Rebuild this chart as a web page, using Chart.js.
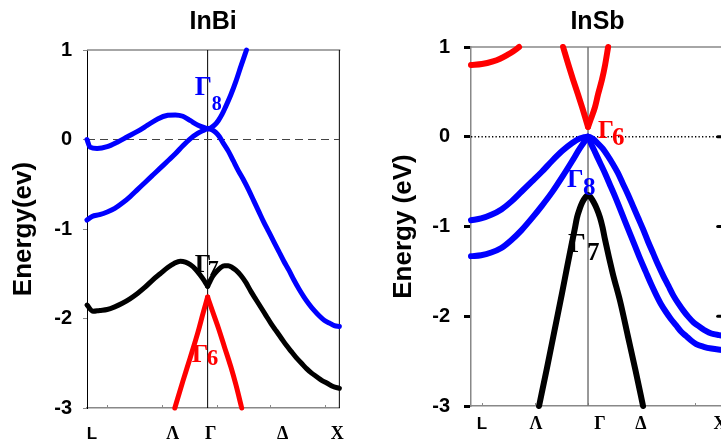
<!DOCTYPE html>
<html><head><meta charset="utf-8">
<script src="https://cdn.jsdelivr.net/npm/chart.js@4/dist/chart.umd.min.js"></script>
<style>
html,body{margin:0;padding:0;background:#fff;overflow:hidden;width:721px;height:447px;}
#wrap{position:relative;width:721px;height:447px;overflow:hidden;background:#fff;}
#c1{position:absolute;left:0;top:0;}
#c2{position:absolute;left:360px;top:0;}
</style></head><body>
<div id="wrap"><canvas id="c1" width="360" height="447"></canvas><canvas id="c2" width="380" height="447"></canvas></div>
<script>
const SANS = "'Liberation Sans', Arial, Helvetica, sans-serif";
const SERIF = "'Liberation Serif', 'Times New Roman', Times, serif";
const BLUE = '#0000ff', RED = '#ff0000', BLACK = '#000000';

// ---------- InBi (left panel) ----------
const inbiTitle = 'InBi';
const inbiYTitle = 'Energy(ev)';
const inbiGammaK = 0.478;
const inbiXLabels = ['L', 'Λ', 'Γ', 'Δ', 'X'];
const inbiXLabelK = [0.02, 0.34, 0.49, 0.775, 0.992];
const inbiMinorK = [0.079, 0.296, 0.514, 0.727, 0.945];
// Gamma8 upper band: L -> Gamma
const inbiG8aK = [0, 0.012, 0.04, 0.08, 0.12, 0.16, 0.2, 0.24, 0.28, 0.32, 0.35, 0.38, 0.41, 0.44, 0.478];
const inbiG8aE = [0.0, -0.085, -0.1, -0.08, -0.03, 0.03, 0.09, 0.16, 0.23, 0.27, 0.275, 0.26, 0.21, 0.16, 0.12];
// Gamma8 upper band: Gamma -> Delta
const inbiG8bK = [0.478, 0.49, 0.505, 0.52, 0.535, 0.55, 0.57, 0.59, 0.61, 0.632];
const inbiG8bE = [0.12, 0.13, 0.16, 0.21, 0.28, 0.37, 0.5, 0.65, 0.82, 1.0];
// Gamma8 lower band: L -> X
const inbiG8cK = [0, 0.02, 0.05, 0.08, 0.11, 0.14, 0.17, 0.2, 0.23, 0.26, 0.29, 0.32, 0.35, 0.38, 0.41, 0.44, 0.46, 0.478,
  0.495, 0.51, 0.525, 0.54, 0.56, 0.58, 0.6, 0.62, 0.64, 0.66, 0.68, 0.7, 0.72, 0.74, 0.76, 0.78, 0.8, 0.82, 0.84, 0.86, 0.88, 0.9, 0.92, 0.94, 0.96, 0.98, 1.0];
const inbiG8cE = [-0.9, -0.86, -0.84, -0.81, -0.77, -0.71, -0.64, -0.56, -0.48, -0.4, -0.32, -0.24, -0.16, -0.07, 0.01, 0.07, 0.1, 0.12,
  0.11, 0.08, 0.03, -0.04, -0.13, -0.24, -0.35, -0.45, -0.56, -0.68, -0.8, -0.92, -1.03, -1.14, -1.25, -1.36, -1.46, -1.57, -1.67, -1.76, -1.84, -1.91, -1.97, -2.02, -2.05, -2.08, -2.09];
// Gamma7 band
const inbiG7aK = [0, 0.024, 0.05, 0.08, 0.11, 0.14, 0.17, 0.2, 0.23, 0.26, 0.29, 0.32, 0.345, 0.37, 0.39, 0.41, 0.43, 0.45, 0.465, 0.478];
const inbiG7aE = [-1.85, -1.92, -1.91, -1.9, -1.87, -1.83, -1.78, -1.72, -1.65, -1.57, -1.5, -1.43, -1.385, -1.36, -1.37, -1.4, -1.45, -1.52, -1.58, -1.64];
const inbiG7bK = [0.478, 0.49, 0.5, 0.515, 0.53, 0.545, 0.56, 0.575, 0.59, 0.61, 0.63, 0.65, 0.67, 0.69, 0.71, 0.73, 0.75, 0.77, 0.79, 0.81, 0.83, 0.85, 0.87, 0.89, 0.91, 0.93, 0.95, 0.975, 1.0];
const inbiG7bE = [-1.64, -1.57, -1.52, -1.47, -1.43, -1.41, -1.41, -1.43, -1.46, -1.52, -1.6, -1.7, -1.79, -1.88, -1.97, -2.06, -2.14, -2.22, -2.3, -2.37, -2.44, -2.5, -2.56, -2.61, -2.65, -2.69, -2.72, -2.76, -2.78];
// Gamma6 band
const inbiG6aK = [0.348, 0.38, 0.41, 0.44, 0.46, 0.478];
const inbiG6aE = [-3.0, -2.7, -2.43, -2.15, -1.94, -1.76];
const inbiG6bK = [0.478, 0.495, 0.52, 0.545, 0.57, 0.59, 0.613];
const inbiG6bE = [-1.76, -1.9, -2.1, -2.32, -2.54, -2.74, -3.0];

// ---------- InSb (right panel) ----------
const insbTitle = 'InSb';
const insbYTitle = 'Energy (eV)';
const insbGammaK = 0.4625;
const insbXLabels = ['L', 'Λ', 'Γ', 'Δ', 'X'];
const insbXLabelK = [0.043, 0.257, 0.51, 0.672, 0.984];
const insbMinorK = [0.043, 0.253, 0.4625, 0.676, 0.885];
// conduction band near L
const insbCLK = [0, 0.043, 0.087, 0.115, 0.142, 0.166, 0.190];
const insbCLE = [0.8, 0.81, 0.84, 0.87, 0.91, 0.95, 1.0];
// Gamma6 conduction band
const insbG6aK = [0.364, 0.383, 0.403, 0.423, 0.439, 0.451, 0.4625];
const insbG6aE = [1.0, 0.82, 0.64, 0.47, 0.33, 0.22, 0.11];
const insbG6bK = [0.4625, 0.474, 0.490, 0.502, 0.518, 0.530, 0.542];
const insbG6bE = [0.11, 0.2, 0.33, 0.47, 0.64, 0.8, 1.0];
// Gamma8 heavy band
const insbG8hK = [0, 0.04, 0.08, 0.12, 0.16, 0.2, 0.24, 0.28, 0.32, 0.36, 0.4, 0.43, 0.4625,
  0.48, 0.5, 0.52, 0.54, 0.56, 0.58, 0.6, 0.62, 0.64, 0.66, 0.68, 0.7, 0.72, 0.74, 0.76, 0.78, 0.8, 0.82, 0.84, 0.86, 0.88, 0.9, 0.92, 0.94, 0.96, 0.98, 1.0];
const insbG8hE = [-0.93, -0.91, -0.87, -0.81, -0.72, -0.61, -0.5, -0.39, -0.27, -0.16, -0.07, -0.02, 0.0,
  -0.02, -0.07, -0.13, -0.21, -0.3, -0.4, -0.52, -0.64, -0.77, -0.9, -1.03, -1.17, -1.3, -1.43, -1.55, -1.66, -1.77, -1.86, -1.94, -2.01, -2.07, -2.11, -2.15, -2.18, -2.2, -2.21, -2.22];
// Gamma8 light band
const insbG8laK = [0, 0.04, 0.08, 0.12, 0.16, 0.2, 0.24, 0.28, 0.32, 0.36, 0.4, 0.43, 0.4625];
const insbG8laE = [-1.33, -1.32, -1.29, -1.24, -1.15, -1.04, -0.91, -0.77, -0.62, -0.45, -0.27, -0.13, 0.0];
const insbG8lbK = [0.4625, 0.475, 0.49, 0.51, 0.53, 0.55, 0.57, 0.59, 0.61, 0.63, 0.65, 0.67, 0.69, 0.71, 0.73, 0.75, 0.77, 0.79, 0.81, 0.83, 0.85, 0.87, 0.89, 0.92, 0.95, 1.0];
const insbG8lbE = [0.0, -0.08, -0.17, -0.29, -0.41, -0.54, -0.67, -0.81, -0.95, -1.09, -1.23, -1.37, -1.5, -1.63, -1.75, -1.86, -1.95, -2.03, -2.1, -2.17, -2.22, -2.27, -2.31, -2.34, -2.36, -2.38];
// Gamma7 band
const insbG7K = [0.269, 0.3, 0.33, 0.36, 0.38, 0.399, 0.41, 0.419, 0.43, 0.44, 0.452, 0.4625, 0.473, 0.485, 0.497, 0.51, 0.52, 0.53, 0.56, 0.59, 0.62, 0.65, 0.68];
const insbG7E = [-3.0, -2.58, -2.16, -1.74, -1.45, -1.18, -1.03, -0.9, -0.8, -0.73, -0.675, -0.65, -0.675, -0.73, -0.8, -0.9, -1.01, -1.15, -1.52, -1.84, -2.22, -2.6, -3.0];

const energyMin = -3, energyMax = 1, energyStep = 1;

function pts(k, e) { return k.map((v, i) => ({x: v, y: e[i]})); }
function band(k, e, color, width) {
  return {data: pts(k, e), borderColor: color, backgroundColor: color, borderWidth: width,
    cubicInterpolationMode: 'monotone', tension: 0.4,
    pointRadius: 0, pointHoverRadius: 0, borderCapStyle: 'round', borderJoinStyle: 'round',
    clip: false, fill: false};
}
function refLine(k, e, color, width, dash) {
  return {data: pts(k, e), borderColor: color, borderWidth: width, borderDash: dash,
    tension: 0, pointRadius: 0, pointHoverRadius: 0, fill: false};
}

const framePlugin = {
  id: 'frame',
  beforeDatasetsDraw(chart, args, o) {
    const {ctx, chartArea: a, scales: {x, y}} = chart;
    ctx.save();
    ctx.lineCap = 'butt';
    ctx.strokeStyle = o.topColor; ctx.lineWidth = o.topWidth;
    ctx.beginPath(); ctx.moveTo(a.left, a.top); ctx.lineTo(a.right + 1, a.top); ctx.stroke();
    if (o.rightColor) {
      ctx.strokeStyle = o.rightColor; ctx.lineWidth = 1;
      ctx.beginPath(); ctx.moveTo(a.right, a.top); ctx.lineTo(a.right, a.bottom); ctx.stroke();
    }
    ctx.strokeStyle = o.minorColor; ctx.lineWidth = 1;
    o.minor.forEach(v => {
      const px = Math.round(x.getPixelForValue(v)) + 0.5;
      ctx.beginPath(); ctx.moveTo(px, a.bottom); ctx.lineTo(px, a.bottom - 3); ctx.stroke();
    });
    if (o.edgeMarks) {
      ctx.strokeStyle = '#000'; ctx.lineWidth = 3; ctx.lineCap = 'round';
      o.edgeMarks.values.forEach(v => {
        const py = y.getPixelForValue(v);
        ctx.beginPath();
        ctx.moveTo(x.getPixelForValue(o.edgeMarks.k0), py);
        ctx.lineTo(x.getPixelForValue(o.edgeMarks.k1), py);
        ctx.stroke();
      });
    }
    ctx.restore();
  },
  afterDatasetsDraw(chart, args, o) {
    const {ctx, scales: {x, y}} = chart;
    ctx.save();
    ctx.textAlign = 'left'; ctx.textBaseline = 'alphabetic';
    o.labels.forEach(l => {
      const px = x.getPixelForValue(l.k), py = y.getPixelForValue(l.e);
      ctx.fillStyle = l.c;
      ctx.font = 'bold ' + l.size + 'px ' + SERIF;
      ctx.fillText('Γ', px, py);
      ctx.font = 'bold ' + l.subSize + 'px ' + SERIF;
      ctx.fillText(l.sub, px + l.dx, py + l.dy);
    });
    ctx.restore();
  }
};

function makeChart(id, p) {
  return new Chart(document.getElementById(id), {
    type: 'line',
    data: {datasets: p.datasets},
    plugins: [framePlugin],
    options: {
      responsive: false, animation: false, events: [], locale: 'en-US',
      layout: {padding: {left: 0, right: p.padRight, top: 0, bottom: 0}},
      plugins: {
        legend: {display: false}, tooltip: {enabled: false},
        title: {display: true, text: p.title, fullSize: false, color: '#000',
          font: {family: SANS, size: 25, weight: 'bold', lineHeight: 1.2},
          padding: {top: p.titlePadTop, bottom: p.titlePadBottom}},
        frame: p.frame
      },
      scales: {
        x: {
          type: 'linear', min: 0, max: 1,
          afterFit: s => { s.height = p.xHeight; },
          afterBuildTicks: s => { s.ticks = p.xLabelK.map(v => ({value: v})); },
          grid: {display: false, drawTicks: false, tickLength: 0},
          border: {display: true, color: p.bottomColor, width: p.bottomWidth},
          ticks: {
            autoSkip: false, maxRotation: 0, minRotation: 0, padding: p.xPad, color: '#000',
            callback: (v, i) => p.xLabels[i],
            font: c => c.index === 0 ? {family: SANS, size: 17, weight: 'bold'} : {family: SERIF, size: 18, weight: 'bold'}
          }
        },
        y: {
          type: 'linear', min: energyMin, max: energyMax,
          afterFit: s => { s.width = p.yWidth; },
          grid: {display: true, drawOnChartArea: false, drawTicks: true, tickLength: p.tickLen,
            tickColor: p.tickColor, tickWidth: p.tickWidth},
          border: {display: true, color: p.leftColor, width: p.leftWidth},
          ticks: {stepSize: energyStep, padding: p.yPad, color: '#000',
            font: {family: SANS, size: 20, weight: 'bold'}},
          title: {display: true, text: p.yTitle, color: '#000',
            font: {family: SANS, size: 26, weight: 'bold', lineHeight: 1.2},
            padding: {top: p.yTitlePad, bottom: 0}}
        }
      }
    }
  });
}

makeChart('c1', {
  title: inbiTitle, yTitle: inbiYTitle, xLabels: inbiXLabels, xLabelK: inbiXLabelK,
  padRight: 20, titlePadTop: 7, titlePadBottom: 13, xHeight: 39, yWidth: 87, xPad: 16, yPad: 11,
  tickLen: 4, tickColor: '#888', tickWidth: 1, leftColor: '#000', leftWidth: 1,
  bottomColor: '#888', bottomWidth: 1.5, yTitlePad: 8,
  frame: {topColor: '#888', topWidth: 1.5, rightColor: '#000', minorColor: '#888', minor: inbiMinorK,
    labels: [
      {c: BLUE, k: 0.427, e: 0.497, size: 27, sub: '8', subSize: 20, dx: 17, dy: 15},
      {c: BLACK, k: 0.427, e: -1.48, size: 26, sub: '7', subSize: 22, dx: 13, dy: 3},
      {c: RED, k: 0.415, e: -2.486, size: 26, sub: '6', subSize: 23, dx: 15, dy: 3}
    ]},
  datasets: [
    band(inbiG6aK, inbiG6aE, RED, 5),
    band(inbiG6bK, inbiG6bE, RED, 5),
    band(inbiG7aK, inbiG7aE, BLACK, 5),
    band(inbiG7bK, inbiG7bE, BLACK, 5),
    band(inbiG8aK, inbiG8aE, BLUE, 5),
    band(inbiG8bK, inbiG8bE, BLUE, 5),
    band(inbiG8cK, inbiG8cE, BLUE, 5),
    refLine([0, 1], [0, 0], '#444', 1, [8, 5]),
    refLine([inbiGammaK, inbiGammaK], [energyMin, energyMax], '#000', 1, [])
  ]
});

makeChart('c2', {
  title: insbTitle, yTitle: insbYTitle, xLabels: insbXLabels, xLabelK: insbXLabelK,
  padRight: 16, titlePadTop: 7, titlePadBottom: 10, xHeight: 41, yWidth: 111, xPad: 8, yPad: 14,
  tickLen: 7, tickColor: '#000', tickWidth: 3, leftColor: '#888', leftWidth: 1.5,
  bottomColor: '#888', bottomWidth: 1.5, yTitlePad: 28,
  frame: {topColor: '#888', topWidth: 1.5, rightColor: null, minorColor: '#888', minor: insbMinorK,
    edgeMarks: {k0: 0.975, k1: 0.99, values: [0, -1, -2]},
    labels: [
      {c: RED, k: 0.502, e: -0.011, size: 25, sub: '6', subSize: 25, dx: 14, dy: 7},
      {c: BLUE, k: 0.379, e: -0.557, size: 26, sub: '8', subSize: 25, dx: 16, dy: 8},
      {c: BLACK, k: 0.383, e: -1.281, size: 28, sub: '7', subSize: 25, dx: 19, dy: 8}
    ]},
  datasets: [
    band(insbCLK, insbCLE, RED, 6),
    band(insbG6aK, insbG6aE, RED, 6),
    band(insbG6bK, insbG6bE, RED, 6),
    band(insbG8hK, insbG8hE, BLUE, 6),
    band(insbG8laK, insbG8laE, BLUE, 6),
    band(insbG8lbK, insbG8lbE, BLUE, 6),
    band(insbG7K, insbG7E, BLACK, 6),
    refLine([0, 1], [0, 0], '#000', 1.3, [1.3, 2.2]),
    refLine([insbGammaK, insbGammaK], [energyMin, energyMax], '#777', 1.5, [])
  ]
});
</script>
</body></html>
